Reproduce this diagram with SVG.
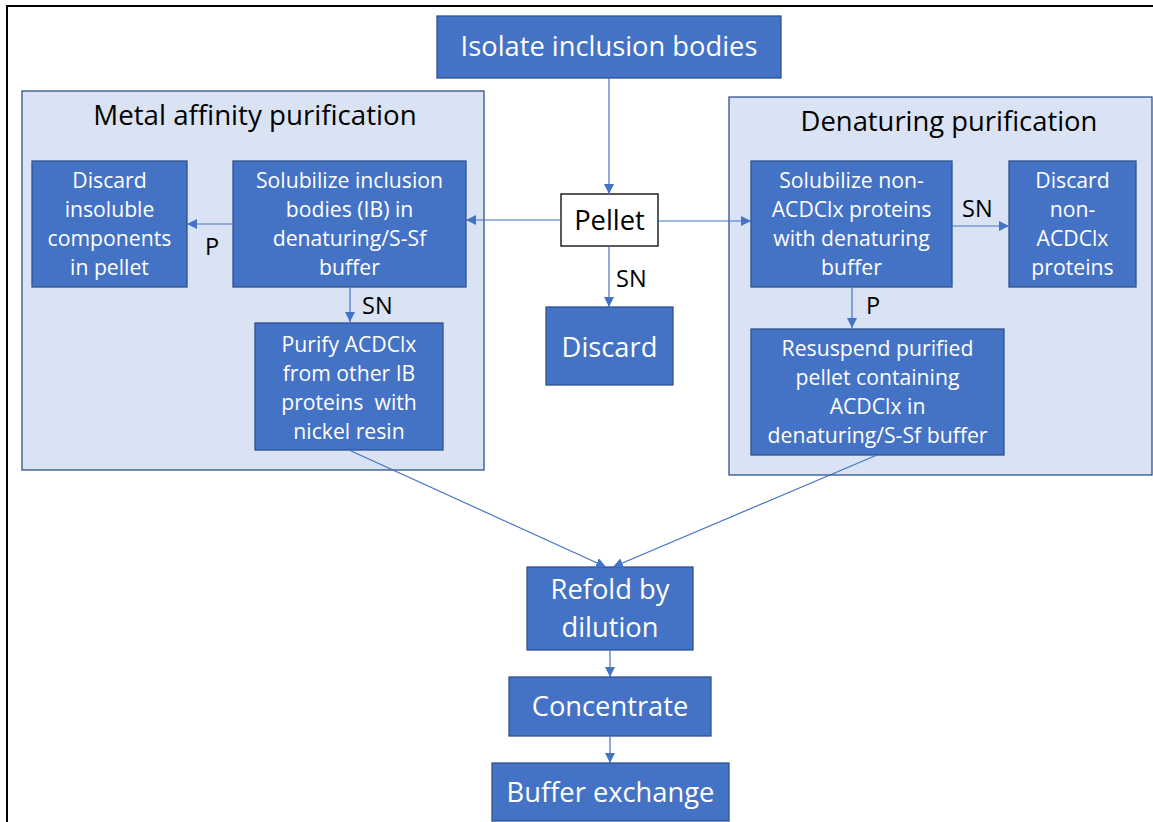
<svg xmlns="http://www.w3.org/2000/svg" width="1153" height="822" viewBox="0 0 1153 822">
<defs>
<marker id="arr" viewBox="0 0 10 10" refX="10" refY="5" markerWidth="10" markerHeight="10" markerUnits="userSpaceOnUse" orient="auto">
<path d="M0,0 L10,5 L0,10 z" fill="#4472c4"/>
</marker>
<style>
.panel{fill:#dae3f3;stroke:#2f528f;stroke-width:1.3}
.box{fill:#4472c4;stroke:#2f528f;stroke-width:1.3}
.wt{fill:#ffffff;font-family:"Open Sans",sans-serif;text-anchor:middle}
.s{font-size:21.2px}
.b{font-size:27.3px}
.bt{fill:#000000;font-family:"Open Sans",sans-serif}
.lb{font-size:23.5px}
.ln{stroke:#4472c4;stroke-width:1.2;fill:none;marker-end:url(#arr)}
</style>
</defs>
<rect width="1153" height="822" fill="#ffffff"/>
<path d="M7,822 V6 H1153" fill="none" stroke="#000" stroke-width="2"/>

<g id="panel-metal">
<rect class="panel" x="22" y="91" width="462" height="379"/>
<text class="bt" x="255" y="125" font-size="27.7" text-anchor="middle">Metal affinity purification</text>
</g>
<g id="panel-denat">
<rect class="panel" x="729" y="97" width="423" height="378"/>
<text class="bt" x="949" y="131" font-size="27.4" text-anchor="middle">Denaturing purification</text>
</g>

<g id="isolate">
<rect class="box" x="437" y="16" width="344" height="62"/>
<text class="wt b" x="609" y="56">Isolate inclusion bodies</text>
</g>
<g id="pellet">
<rect x="561" y="194" width="97" height="52" fill="#ffffff" stroke="#000" stroke-width="1.3"/>
<text class="bt" x="609.5" y="230" font-size="27.3" text-anchor="middle">Pellet</text>
</g>
<g id="discard-center">
<rect class="box" x="546" y="307" width="127" height="78"/>
<text class="wt b" x="609.5" y="357">Discard</text>
</g>
<g id="discard-insoluble">
<rect class="box" x="32" y="161" width="155" height="126"/>
<text class="wt s" x="109.5"><tspan x="109.5" y="188">Discard</tspan><tspan x="109.5" y="217">insoluble</tspan><tspan x="109.5" y="246">components</tspan><tspan x="109.5" y="275">in pellet</tspan></text>
</g>
<g id="solubilize-ib">
<rect class="box" x="233" y="161" width="233" height="126"/>
<text class="wt s" x="349.5"><tspan x="349.5" y="188">Solubilize inclusion</tspan><tspan x="349.5" y="217">bodies (IB) in</tspan><tspan x="349.5" y="246">denaturing/S-Sf</tspan><tspan x="349.5" y="275">buffer</tspan></text>
</g>
<g id="purify">
<rect class="box" x="255" y="323" width="188" height="127"/>
<text class="wt s" x="349" style="white-space:pre"><tspan x="349" y="352">Purify ACDClx</tspan><tspan x="349" y="381">from other IB</tspan><tspan x="349" y="410">proteins  with</tspan><tspan x="349" y="439">nickel resin</tspan></text>
</g>
<g id="solubilize-non">
<rect class="box" x="751" y="161" width="201" height="126"/>
<text class="wt s" x="851.5"><tspan x="851.5" y="188">Solubilize non-</tspan><tspan x="851.5" y="217">ACDClx proteins</tspan><tspan x="851.5" y="246">with denaturing</tspan><tspan x="851.5" y="275">buffer</tspan></text>
</g>
<g id="discard-non">
<rect class="box" x="1009" y="161" width="127" height="126"/>
<text class="wt s" x="1072.5"><tspan x="1072.5" y="188">Discard</tspan><tspan x="1072.5" y="217">non-</tspan><tspan x="1072.5" y="246">ACDClx</tspan><tspan x="1072.5" y="275">proteins</tspan></text>
</g>
<g id="resuspend">
<rect class="box" x="751" y="329" width="253" height="126"/>
<text class="wt s" x="877.5"><tspan x="877.5" y="356">Resuspend purified</tspan><tspan x="877.5" y="385">pellet containing</tspan><tspan x="877.5" y="414">ACDClx in</tspan><tspan x="877.5" y="443">denaturing/S-Sf buffer</tspan></text>
</g>
<g id="refold">
<rect class="box" x="527" y="567" width="166" height="83"/>
<text class="wt b" x="610"><tspan x="610" y="599">Refold by</tspan><tspan x="610" y="637">dilution</tspan></text>
</g>
<g id="concentrate">
<rect class="box" x="509" y="677" width="202" height="59"/>
<text class="wt b" x="610" y="716">Concentrate</text>
</g>
<g id="buffer-exchange">
<rect class="box" x="492" y="763" width="237" height="58"/>
<text class="wt b" x="610.5" y="802">Buffer exchange</text>
</g>

<g id="connectors">
<line class="ln" x1="609" y1="78" x2="609" y2="194"/>
<line class="ln" x1="561" y1="220" x2="466" y2="220"/>
<line class="ln" x1="658" y1="221" x2="751" y2="221"/>
<line class="ln" x1="609" y1="246" x2="609" y2="307"/>
<line class="ln" x1="233" y1="224" x2="187" y2="224"/>
<line class="ln" x1="350" y1="287" x2="350" y2="322"/>
<line class="ln" x1="952" y1="226" x2="1009" y2="226"/>
<line class="ln" x1="852" y1="287" x2="852" y2="328"/>
<line class="ln" x1="349" y1="450" x2="606" y2="567"/>
<line class="ln" x1="877" y1="455" x2="613" y2="567"/>
<line class="ln" x1="610" y1="650" x2="610" y2="677"/>
<line class="ln" x1="610" y1="736" x2="610" y2="763"/>
</g>
<g id="labels">
<text class="bt lb" x="205" y="255">P</text>
<text class="bt lb" x="362" y="314">SN</text>
<text class="bt lb" x="616" y="287">SN</text>
<text class="bt lb" x="962" y="217">SN</text>
<text class="bt lb" x="866" y="314">P</text>
</g>
</svg>
